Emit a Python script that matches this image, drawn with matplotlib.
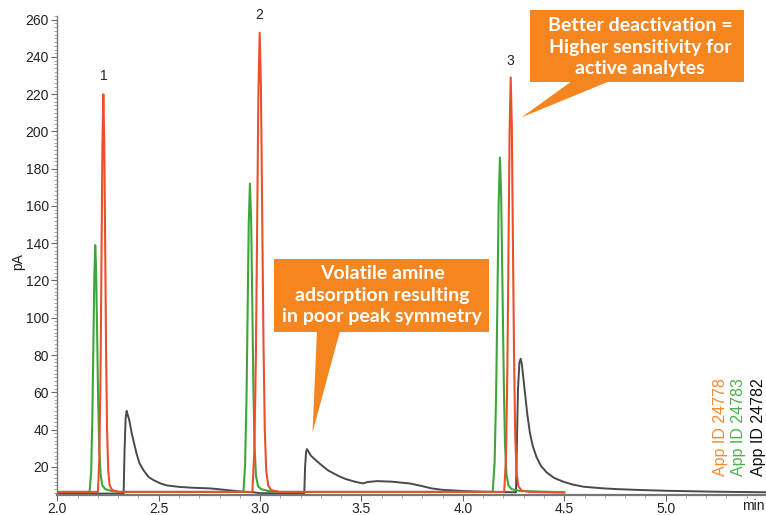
import matplotlib
matplotlib.use("Agg")
import matplotlib.pyplot as plt
from matplotlib.ticker import MultipleLocator
from matplotlib.patches import Polygon, Rectangle

# ---------------- data ----------------
orange_t = [2.000, 2.2005, 2.2074, 2.2132, 2.2178, 2.2224, 2.227, 2.2316, 2.2362, 2.2408,
            2.2454, 2.2512, 2.258, 2.2707, 2.2995,
            2.962, 2.9716, 2.9794, 2.9856, 2.9918, 2.998, 3.0042, 3.0106, 3.0166, 3.0232,
            3.0304, 3.040, 3.0544, 3.0964,
            4.204, 4.213, 4.2196, 4.225, 4.2305, 4.236, 4.2415, 4.247, 4.2525, 4.258,
            4.265, 4.274, 4.290, 4.330, 4.500]
orange_v = [6.5, 6.5, 25, 70, 130, 192, 220, 194, 138, 80,
            40, 18, 10, 7.5, 6.5,
            6.5, 28, 80, 149, 221, 253, 224, 155, 88, 40,
            18, 10, 7.5, 6.5,
            6.5, 26, 73, 135, 200, 229, 203, 140, 80, 38,
            17, 9.5, 7.2, 6.5, 6.2]

green_t = [2.000, 2.1595, 2.1672, 2.1727, 2.1776, 2.1826, 2.187, 2.1914, 2.1964, 2.2013,
           2.2068, 2.2134, 2.2222, 2.2365, 2.2673, 2.3113,
           2.918, 2.926, 2.933, 2.9385, 2.944, 2.950, 2.956, 2.962, 2.967, 2.973,
           2.980, 2.990, 3.005, 3.040, 3.080,
           4.147, 4.1566, 4.1643, 4.1705, 4.1768, 4.183, 4.189, 4.196, 4.202, 4.208,
           4.215, 4.225, 4.240, 4.280, 4.500]
green_v = [6.5, 6.5, 18, 46, 83, 122, 139, 126, 92, 56,
           30, 16, 10, 8, 7, 6.5,
           6.5, 21, 56, 102, 150, 172, 152, 105, 62, 30,
           15, 9.5, 8, 7, 6.5,
           6.5, 22, 60, 110, 163, 186, 165, 112, 65, 32,
           16, 10, 8, 7, 6.3]

black_t = [2.000, 2.327, 2.332, 2.337, 2.342, 2.347, 2.355, 2.367, 2.380, 2.391, 2.405,
           2.424, 2.450, 2.475, 2.510, 2.540, 2.600, 2.672, 2.753, 2.835, 2.918, 2.970,
           3.000, 3.218, 3.222, 3.227, 3.231, 3.237, 3.250, 3.270, 3.296, 3.336, 3.370,
           3.394, 3.420, 3.460, 3.500, 3.510, 3.530, 3.576, 3.650, 3.740, 3.800, 3.845,
           3.900, 4.000, 4.100, 4.262, 4.266, 4.272, 4.279, 4.285, 4.291, 4.298, 4.306,
           4.318, 4.331, 4.345, 4.364, 4.385, 4.413, 4.450, 4.495, 4.540, 4.594, 4.680,
           4.758, 4.880, 5.005, 5.250, 5.500]
black_v = [5.6, 5.6, 30, 46, 50, 48, 45, 38, 32, 27, 22,
           18.3, 14.5, 12.8, 11, 10, 9.2, 8.7, 8.4, 7.5, 6.6, 6.3,
           5.8, 5.8, 20, 28, 29.5, 28.5, 26, 24, 21.5, 18, 16,
           14.7, 13.5, 12.2, 11.2, 11.1, 11.8, 12.3, 12, 11, 9.6, 8.4,
           7.6, 7.0, 6.6, 6.3, 30, 62, 76, 78, 75, 68, 60,
           48, 38, 31, 25, 20.5, 17, 14, 12, 10.5, 9.3, 8.5,
           8.0, 7.5, 7.1, 6.6, 6.3]

peak_labels = ["1", "2", "3"]
peak_label_t = [2.227, 2.998, 4.236]
peak_label_v = [226, 259, 234]

series_names = ["App ID 24778", "App ID 24783", "App ID 24782"]
x_ticks = [2.0, 2.5, 3.0, 3.5, 4.0, 4.5, 5.0]
y_ticks = [20, 40, 60, 80, 100, 120, 140, 160, 180, 200, 220, 240, 260]

# ---------------- styling ----------------
W, H = 766, 515
c_orange_line = "#E9502B"
c_green_line = "#3DA63A"
c_black_line = "#4A4A4A"
c_orange_txt = "#F58A2E"
c_green_txt = "#4DB04A"
c_callout = "#F5851F"
tick_font = "Liberation Sans"

fig = plt.figure(figsize=(W / 100, H / 100), dpi=100)
ax = fig.add_axes([57.3 / W, 1 - 494.7 / H, (766 - 57.3) / W, (494.7 - 16) / H])

ax.plot(black_t, black_v, color=c_black_line, lw=1.4, zorder=2)
ax.plot(green_t, green_v, color=c_green_line, lw=1.5, zorder=3)
ax.plot(orange_t, orange_v, color=c_orange_line, lw=1.5, zorder=4)

for lab, t, v in zip(peak_labels, peak_label_t, peak_label_v):
    ax.text(t, v, lab, ha="center", va="bottom", fontsize=10,
            family=tick_font, color="#222222")

ax.set_xlim(2.0, 5.495)
ax.set_ylim(5, 262)
ax.set_xticks(x_ticks)
ax.set_xticklabels([f"{v:.1f}" for v in x_ticks])
ax.set_yticks(y_ticks)
ax.xaxis.set_minor_locator(MultipleLocator(0.1))
ax.yaxis.set_minor_locator(MultipleLocator(2))
for s in ["top", "right"]:
    ax.spines[s].set_visible(False)
for s in ["left", "bottom"]:
    ax.spines[s].set_color("#777777")
ax.spines["bottom"].set_linewidth(1.6)
ax.spines["left"].set_linewidth(1.0)
ax.tick_params(axis="both", which="major", length=4, width=0.8, color="#666666",
               labelsize=10, labelcolor="#222222", pad=2)
ax.tick_params(axis="x", which="major", pad=1)
ax.tick_params(axis="both", which="minor", length=2.5, width=0.6, color="#999999")
for lbl in ax.get_xticklabels() + ax.get_yticklabels():
    lbl.set_family(tick_font)

fig.text(18 / W, 1 - 262 / H, "pA", rotation=90, ha="center", va="center",
         fontsize=10, family=tick_font, color="#222222")
fig.text(765 / W, 1 - 506 / H, "min", ha="right", va="center",
         fontsize=10, family=tick_font, color="#222222")

# rotated series labels
for name, col, xc in zip(series_names, [c_orange_txt, c_green_txt, "#111111"], [720, 738.5, 758]):
    fig.text(xc / W, 1 - 476.5 / H, name, rotation=90, ha="center", va="bottom",
             fontsize=11.5, family=tick_font, color=col)

# callouts (figure pixel coordinates)
def px(x, y):
    return (x / W, 1 - y / H)

def callout(x0, y0, x1, y1, tri, lines, cx, cy0, dy):
    r = Rectangle(px(x0, y1), (x1 - x0) / W, (y1 - y0) / H, transform=fig.transFigure,
                  facecolor=c_callout, edgecolor="none", zorder=10)
    fig.patches.append(r)
    p = Polygon([px(*pt) for pt in tri], closed=True, transform=fig.transFigure,
                facecolor=c_callout, edgecolor="none", zorder=10)
    fig.patches.append(p)
    for i, ln in enumerate(lines):
        fig.text(cx / W, 1 - (cy0 + i * dy) / H, ln, ha="center", va="center",
                 fontsize=14, family="Lato", weight="bold", color="white", zorder=11)

callout(530, 10, 744.3, 82.3, [(572, 81), (610, 81), (521.7, 117.3)],
        ["Better deactivation =", "Higher sensitivity for", "active analytes"],
        640, 25.5, 21.7)
callout(274, 259, 489.3, 331.7, [(317, 331), (340, 331), (312.5, 432.5)],
        ["Volatile amine", "adsorption resulting", "in poor peak symmetry"],
        382, 273.5, 21.7)

fig.savefig("out.png", dpi=100)
